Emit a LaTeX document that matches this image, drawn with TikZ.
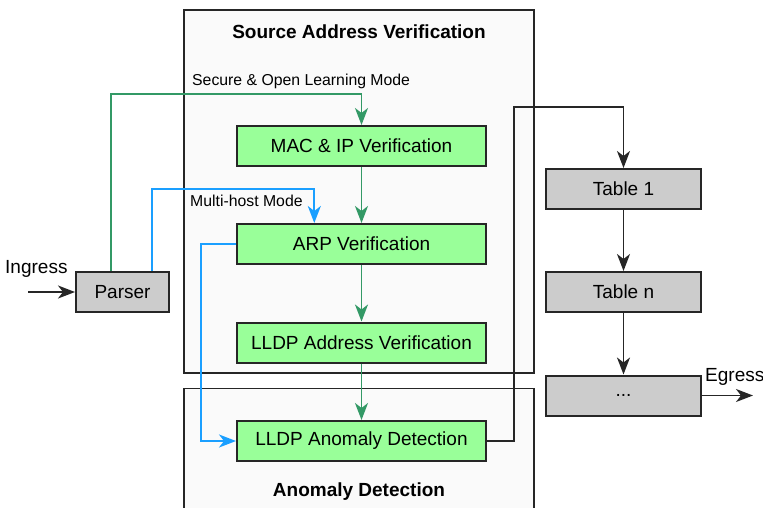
\documentclass[tikz,border=0pt]{standalone}
\usepackage{fontspec}
\setmainfont{Liberation Sans}
\usepackage{tikz}
\usetikzlibrary{arrows.meta,calc}

\definecolor{boxgreen}{HTML}{99FF99}
\definecolor{boxgray}{HTML}{CCCCCC}
\definecolor{panelbg}{HTML}{FAFAFA}
\definecolor{linegreen}{HTML}{339966}
\definecolor{lineblue}{HTML}{1A9FFF}

\begin{document}
\begin{tikzpicture}[x=1pt,y=-1pt]
		\tikzset{>={Stealth[length=17pt,width=13pt,inset=5pt]}}
		\tikzset{
			panel/.style={draw=black!85,line width=1.6pt,fill=panelbg,inner sep=0pt},
			vbox/.style={draw=black!85,line width=2pt,fill=boxgreen,minimum width=249pt,minimum height=40pt,inner sep=0pt,font=\fontsize{19}{22}\selectfont},
			tbox/.style={draw=black!85,line width=2pt,fill=boxgray,minimum height=40pt,inner sep=0pt,font=\fontsize{19}{22}\selectfont},
			gline/.style={draw=linegreen,line width=1.9pt,->},
			bline/.style={draw=lineblue,line width=1.9pt,->},
			kline/.style={draw=black!85,line width=1.9pt,->},
			small/.style={font=\fontsize{15.8}{18}\selectfont,inner sep=0pt},
			big/.style={font=\fontsize{19}{22}\selectfont,inner sep=0pt},
			title/.style={font=\fontsize{19}{22}\selectfont\bfseries,inner sep=0pt}
		}
		
		\clip (0,0) rectangle (763,507);
		
		% the two panels
		\node[panel,minimum width=350pt,minimum height=363pt] (sav) at (359,191.5) {};
		\node[panel,minimum width=350pt,minimum height=140pt] (ad) at (359,458.5) {};
		\node[title,anchor=base] (savtitle) at (359,38) {Source Address Verification};
		\node[title,anchor=base] (adtitle) at (359,496) {Anomaly Detection};
		
		% verification stages
		\node[vbox] (mac) at (361.5,146) {MAC \& IP Verification};
		\node[vbox] (arp) at (361.5,244) {ARP Verification};
		\node[vbox] (lldpa) at (361.5,342.5) {LLDP Address Verification};
		\node[vbox] (anom) at (361.5,441) {LLDP Anomaly Detection};
		
		% parser and tables
		\node[tbox,minimum width=93pt] (parser) at (122.5,292) {Parser};
		\node[tbox,minimum width=155pt] (tab1) at (623.5,189) {Table 1};
		\node[tbox,minimum width=155pt] (tabn) at (623.5,292) {Table n};
		\node[tbox,minimum width=155pt] (dots) at (623.5,395.5) {...};
		
		\coordinate (in) at (28,292);
		\coordinate (out) at (753,395.5);
		\node[big,anchor=base west] (ingress) at (5,273) {Ingress};
		\node[big,anchor=base west] (egress) at (705,381) {Egress};
		
		\coordinate (g1) at (110.7,94.3);
		\coordinate (b1) at (152.3,189);
		\coordinate (b2) at (314.3,189);
		\coordinate (b3) at (201,441);
		\coordinate (k1) at (514,106.7);
		
		\node[small,anchor=base west] (securelbl) at (192,85) {Secure \& Open Learning Mode};
		\node[small,anchor=base west] (multilbl) at (190,206) {Multi-host Mode};
		
		\draw[gline] (parser.north -| g1) -- (g1) -| (mac.north);
		\draw[gline] (mac) -- (arp);
		\draw[gline] (arp) -- (lldpa);
		\draw[gline] (lldpa) -- (anom);
		
		\draw[bline] (parser.north -| b1) -- (b1) -- (b2) -- (arp.north -| b2);
		\draw[bline] (arp.west) -| (b3) -- (anom.west);
		
		\draw[kline] (in) -- (parser.west);
		\draw[kline] (anom.east) -| (k1) -| (tab1.north);
		\draw[kline] (tab1) -- (tabn);
		\draw[kline] (tabn) -- (dots);
		\draw[kline] (dots.east) -- (out);
		
	\end{tikzpicture}
\end{document}
